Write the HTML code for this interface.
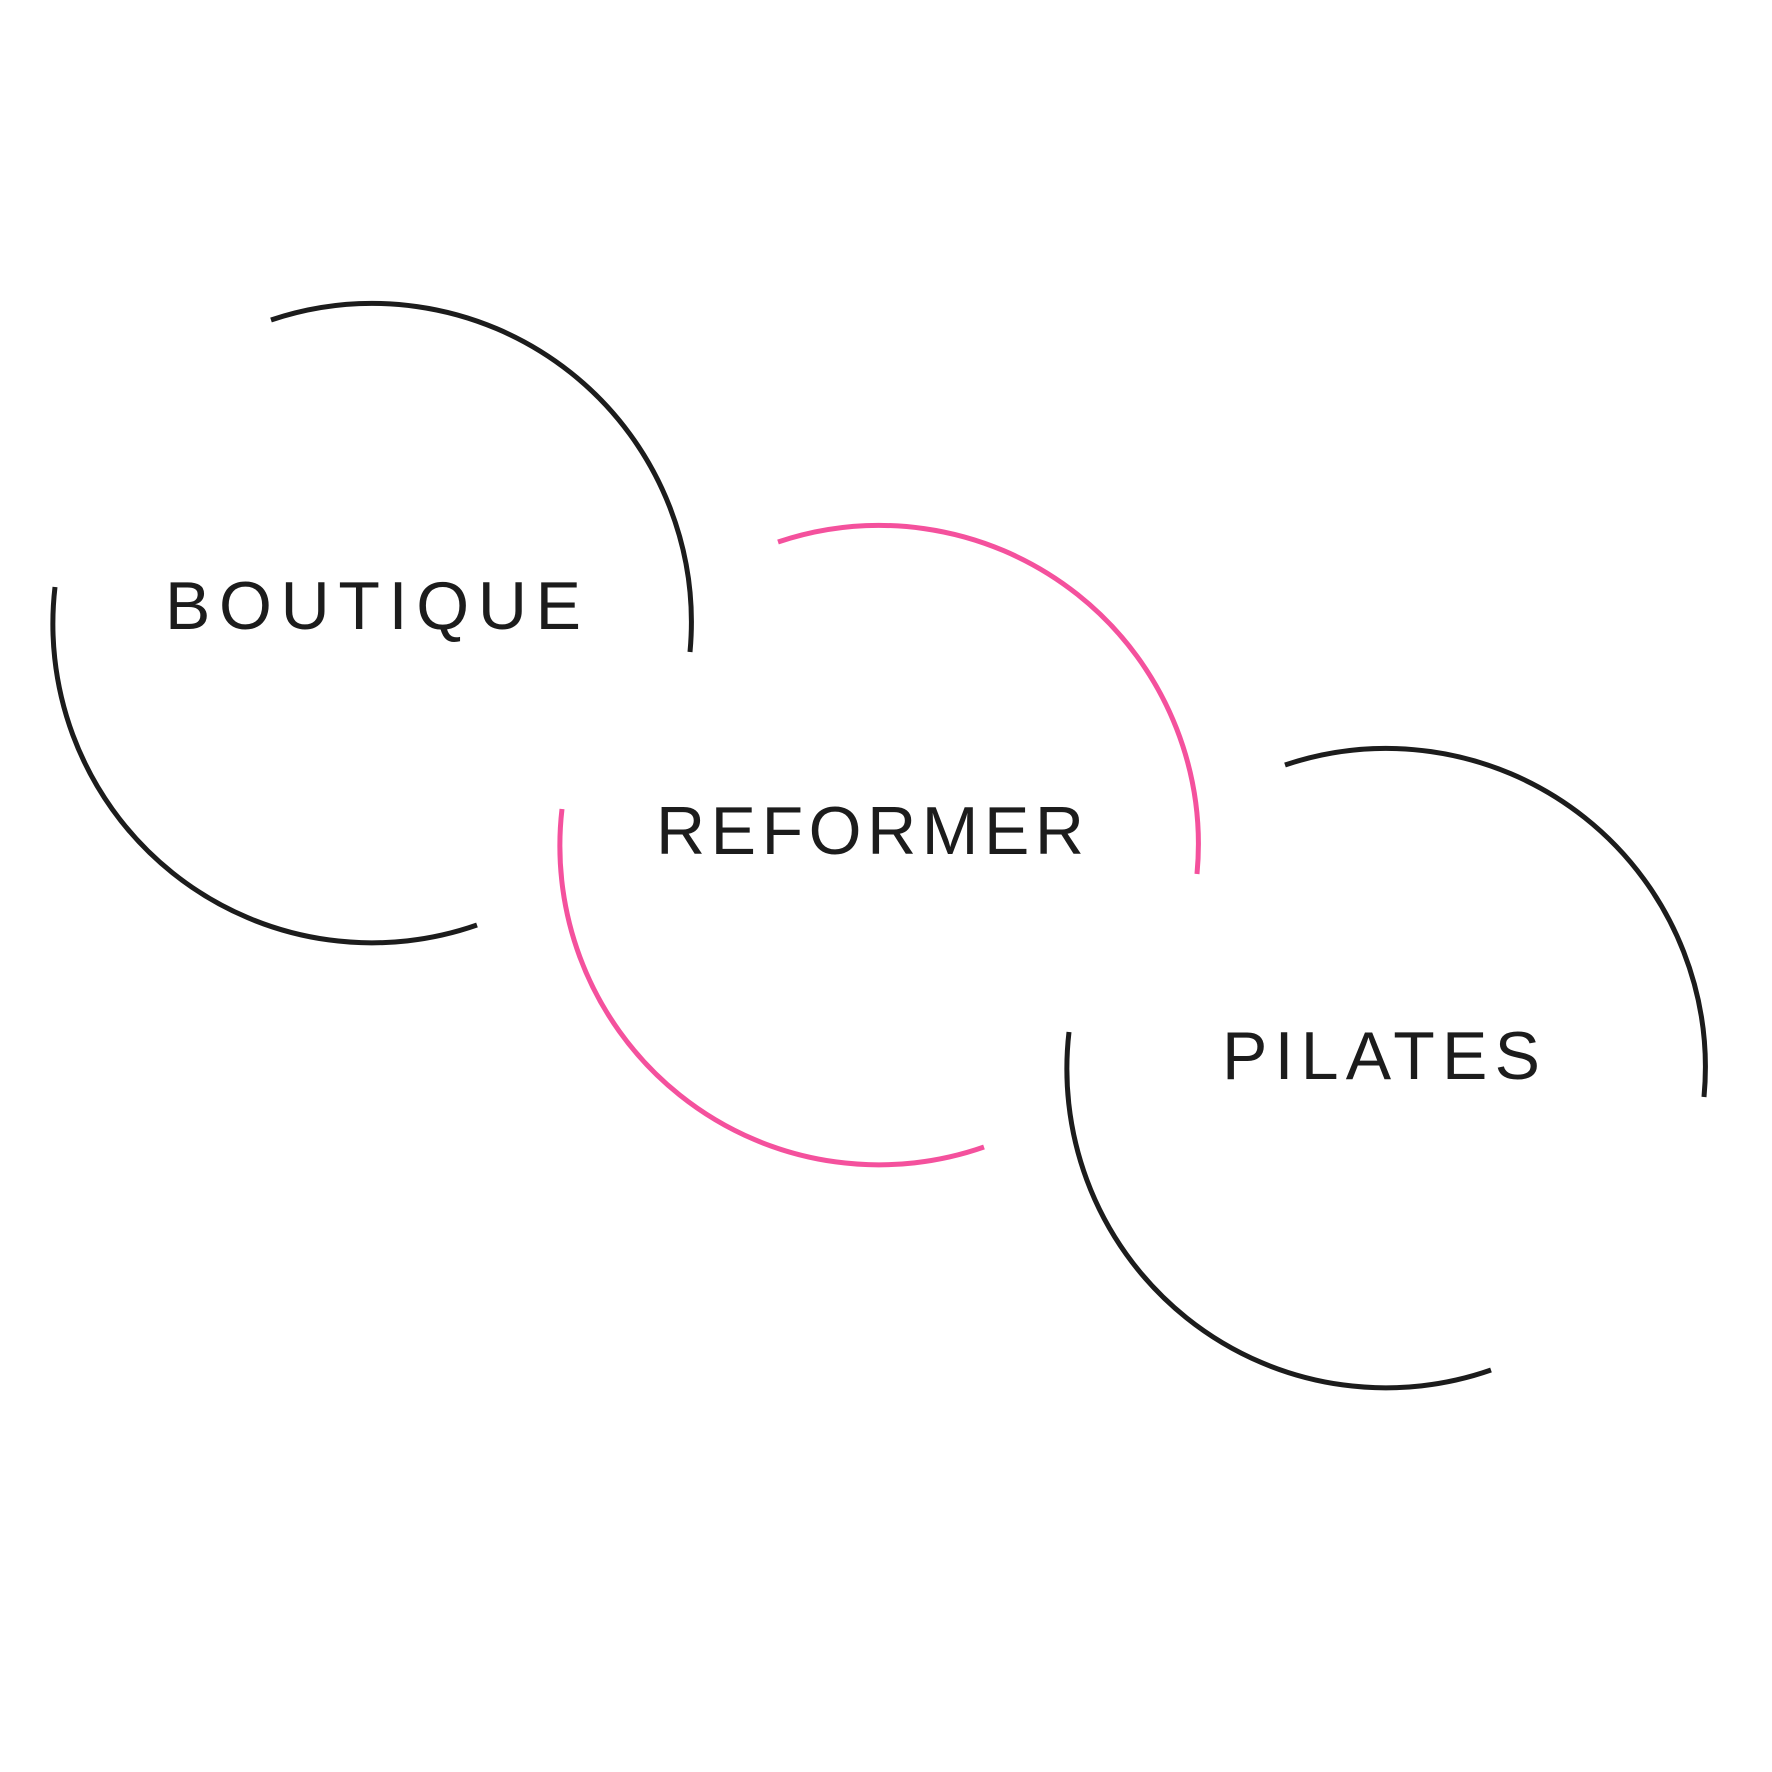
<!DOCTYPE html>
<html><head><meta charset="utf-8"><style>html,body{margin:0;padding:0;background:#fff}svg{display:block}</style></head>
<body>
<svg width="1772" height="1772" viewBox="0 0 1772 1772" xmlns="http://www.w3.org/2000/svg">
<g fill="none" stroke-width="5">
  <g stroke="#1c1c1c" transform="translate(372,623)">
    <path d="M-101,-303 A319,319 0 0 1 318,29"/>
    <path d="M105,302 A319,319 0 0 1 -317,-36"/>
  </g>
  <g stroke="#f4519d" transform="translate(879,845)">
    <path d="M-101,-303 A319,319 0 0 1 318,29"/>
    <path d="M105,302 A319,319 0 0 1 -317,-36"/>
  </g>
  <g stroke="#1c1c1c" transform="translate(1386,1068)">
    <path d="M-101,-303 A319,319 0 0 1 318,29"/>
    <path d="M105,302 A319,319 0 0 1 -317,-36"/>
  </g>
</g>
<g font-family="'Liberation Sans', sans-serif" font-size="68" fill="#1c1c1c">
  <text x="165" y="629" textLength="416" lengthAdjust="spacing">BOUTIQUE</text>
  <text x="656" y="854" textLength="428" lengthAdjust="spacing">REFORMER</text>
  <text x="1222" y="1079" textLength="318" lengthAdjust="spacing">PILATES</text>
</g>
</svg>
</body></html>
